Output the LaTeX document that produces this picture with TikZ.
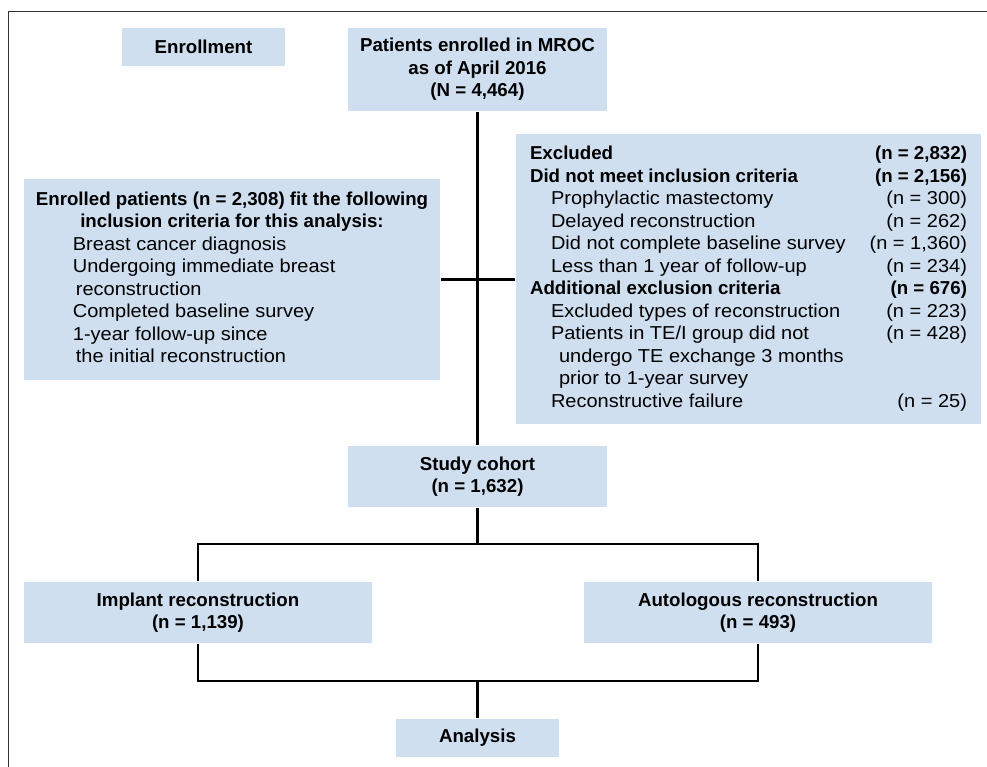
\documentclass[tikz,border=0pt]{standalone}
\usepackage{fontspec}
\setmainfont{Liberation Sans}[UprightFeatures={FakeStretch=1.07}]
\definecolor{boxblue}{RGB}{207,223,240}

\begin{document}
\begin{tikzpicture}[x=1pt,y=-1pt,line width=2.1pt,
	main box/.style={rectangle,fill=boxblue,inner sep=0pt,align=center,font=\fontsize{18.7}{22.5}\selectfont\bfseries},
	list box/.style={rectangle,fill=boxblue,inner sep=0pt,font=\fontsize{18.7}{22.5}\selectfont}]
	\useasboundingbox (0,0) rectangle (987,767);
	\draw[line width=1pt,black!80] (8,767) -- (8,12) -- (987,12);
	
	\node[main box,minimum width=163,minimum height=38] at (203.5,47) (enrol) {Enrollment};
	\node[main box,minimum width=259,minimum height=83] at (477.5,69.5) (patients) {Patients enrolled in MROC\\as of April 2016\\(N = 4,464)};
	\node[list box,minimum width=416,minimum height=201] at (232,279.5) (incl) {%
		\begin{tabular}{@{}l@{}}
			\multicolumn{1}{@{}c@{}}{\bfseries Enrolled patients (n = 2,308) fit the following}\\
			\multicolumn{1}{@{}c@{}}{\bfseries inclusion criteria for this analysis:}\\
			\hspace*{37pt}Breast cancer diagnosis\\
			\hspace*{37pt}Undergoing immediate breast\\
			\hspace*{40pt}reconstruction\\
			\hspace*{37pt}Completed baseline survey\\
			\hspace*{37pt}1-year follow-up since\\
			\hspace*{40pt}the initial reconstruction
		\end{tabular}};
	\node[list box,minimum width=465,minimum height=290] at (748.5,279) (excl) {%
		\begin{tabular*}{437pt}{@{}l@{\extracolsep{\fill}}r@{}}
			\bfseries Excluded & \bfseries (n = 2,832)\\
			\bfseries Did not meet inclusion criteria & \bfseries (n = 2,156)\\
			\hspace*{21pt}Prophylactic mastectomy & (n = 300)\hspace{8pt}\\
			\hspace*{21pt}Delayed reconstruction & (n = 262)\hspace{8pt}\\
			\hspace*{21pt}Did not complete baseline survey & (n = 1,360)\hspace{8pt}\\
			\hspace*{21pt}Less than 1 year of follow-up & (n = 234)\hspace{8pt}\\
			\bfseries Additional exclusion criteria & \bfseries (n = 676)\\
			\hspace*{21pt}Excluded types of reconstruction & (n = 223)\hspace{8pt}\\
			\hspace*{21pt}Patients in TE/I group did not & (n = 428)\hspace{8pt}\\
			\hspace*{29pt}undergo TE exchange 3 months & \\
			\hspace*{29pt}prior to 1-year survey & \\
			\hspace*{21pt}Reconstructive failure & (n = 25)
		\end{tabular*}\hspace{6pt}};
	\node[main box,minimum width=259,minimum height=61] at (477.5,476.5) (study) {Study cohort\\(n = 1,632)};
	\node[main box,minimum width=348,minimum height=61] at (198,612.5) (implant) {Implant reconstruction\\(n = 1,139)};
	\node[main box,minimum width=348,minimum height=61] at (758,612.5) (auto) {Autologous reconstruction\\(n = 493)};
	\node[main box,minimum width=163,minimum height=38] at (477.5,738) (analysis) {Analysis};
	
	\coordinate (fork) at (477.5,544);
	\coordinate (join) at (477.5,681);
	
	\draw (patients) -- (study);
	\draw (incl.east) -- (incl.east -| excl.west);
	\draw (study) -- (fork);
	\draw (implant.north) |- (fork) -| (auto.north);
	\draw (implant.south) |- (join) -| (auto.south);
	\draw (join) -- (analysis);
	
\end{tikzpicture}
\end{document}
